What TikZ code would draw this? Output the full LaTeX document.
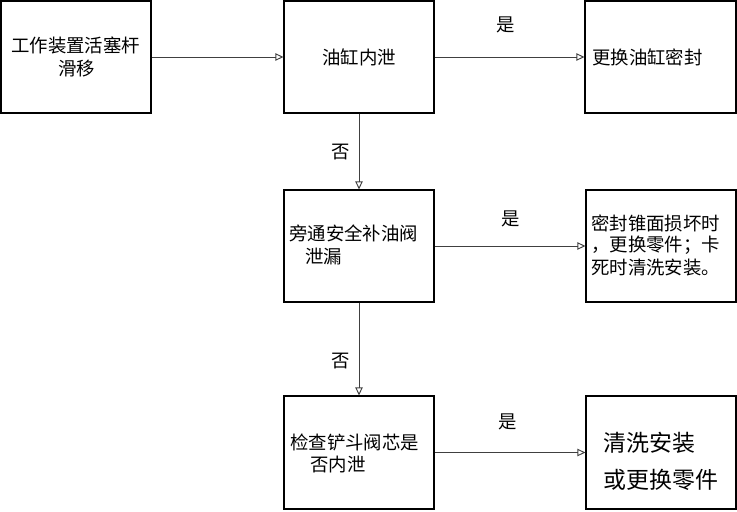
\documentclass[tikz,border=0pt]{standalone}
\usepackage{fontspec}
\setmainfont{Noto Sans CJK SC}
\usetikzlibrary{arrows.meta}
\tikzset{
  box/.style={draw=black, line width=0.8pt, minimum width=112.5pt, minimum height=84pt, inner sep=0pt, fill=white},
  txt/.style={anchor=west, inner sep=0pt, font=\fontsize{13.8pt}{15pt}\selectfont},
  bigtxt/.style={anchor=west, inner sep=0pt, font=\fontsize{17.2pt}{18pt}\selectfont},
  lbl/.style={inner sep=0pt, font=\fontsize{13.8pt}{15pt}\selectfont},
  conn/.style={draw=black!75, line width=0.7pt, -{Triangle[open, length=6pt, width=5.5pt]}}
}
\begin{document}
\begin{tikzpicture}[x=0.75pt, y=-0.75pt]
\useasboundingbox (0,0) rectangle (737,511);
\node[box] (b1) at (76,57) {};
\node[box] (b2) at (359,57) {};
\node[box, minimum width=113.25pt] (b3) at (660.5,57) {};
\node[box] (b4) at (359,246) {};
\node[box] (b5) at (661,246) {};
\node[box, minimum height=84.75pt] (b6) at (359,452.5) {};
\node[box, minimum height=84.75pt] (b7) at (661,452.5) {};

\draw[conn] (b1.east) -- (b2.west);
\draw[conn] (b2.east) -- (b3.west);
\draw[conn] (b2.south) -- (b4.north);
\draw[conn] (b4.east) -- (b5.west);
\draw[conn] (b4.south) -- (b6.north);
\draw[conn] (b6.east) -- (b7.west);

\node[txt] (t1a) at (11,45) {工作装置活塞杆};
\node[txt] (t1b) at (58,69) {滑移};
\node[txt] (t2) at (322,57) {油缸内泄};
\node[txt] (t3) at (592,57) {更换油缸密封};
\node[txt] (t4a) at (289,233) {旁通安全补油阀};
\node[txt] (t4b) at (305,257) {泄漏};
\node[txt] (t5a) at (591,223) {密封锥面损坏时};
\node[txt] (t5b) at (591,245) {，更换零件；卡};
\node[txt] (t5c) at (591,268) {死时清洗安装。};
\node[txt] (t6a) at (290,442) {检查铲斗阀芯是};
\node[txt] (t6b) at (310,465) {否内泄};
\node[bigtxt] (t7a) at (603,443) {清洗安装};
\node[bigtxt] (t7b) at (603,480) {或更换零件};

\node[lbl] (l1) at (506,25) {是};
\node[lbl] (l2) at (341,152) {否};
\node[lbl] (l3) at (511,219) {是};
\node[lbl] (l4) at (341,361) {否};
\node[lbl] (l5) at (508,422) {是};
\end{tikzpicture}
\end{document}
